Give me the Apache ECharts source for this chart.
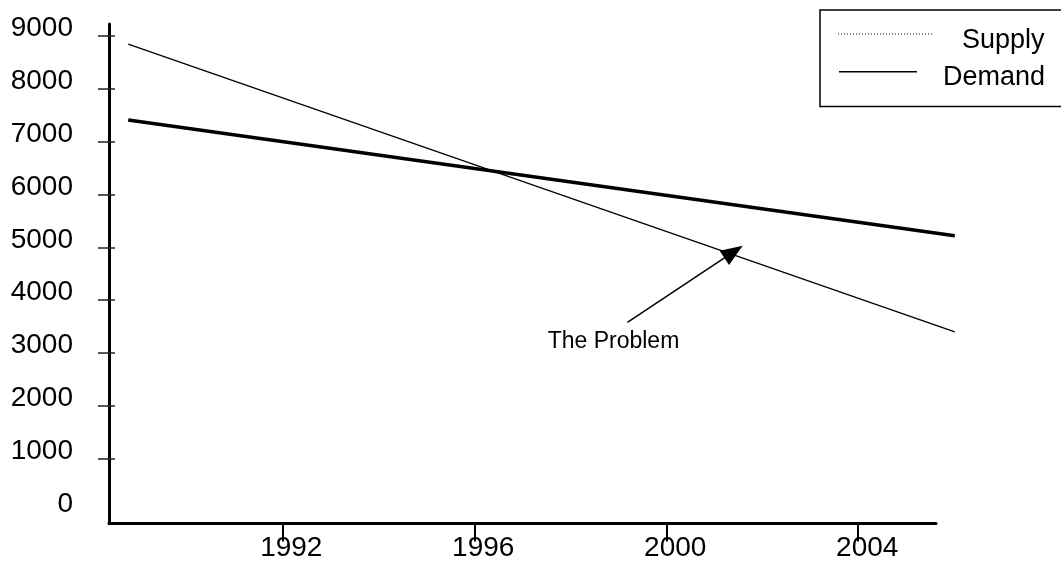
<!DOCTYPE html>
<html>
<head>
<meta charset="utf-8">
<script src="https://cdn.jsdelivr.net/npm/echarts@6/dist/echarts.min.js"></script>
<style>
  html, body { margin: 0; padding: 0; background: #fff; }
  #chart { width: 1061px; height: 564px; }
</style>
</head>
<body>
<div id="chart"></div>
<script>
// Series and tick data
const seriesNames = ['Supply', 'Demand'];
const supplyPoints = [[1988.79, 8848], [2006.01, 3398]];
const demandPoints = [[1988.79, 7410], [2006.01, 5220]];
const yearTicks = [1992, 1996, 2000, 2004];
const valueTicks = [1000, 2000, 3000, 4000, 5000, 6000, 7000, 8000, 9000];
const valueLabels = [0, 1000, 2000, 3000, 4000, 5000, 6000, 7000, 8000, 9000];
const xRange = [1988.39, 2005.62];      // span of the drawn x axis line
const xPlotMax = 2006.025;              // the trend lines run a little past the axis
const yRange = [-227, 9227];

// Annotation: arrow pointing at the widening gap, with its caption
const annotationText = 'The Problem';
const arrowFrom = [1999.19, 3581];
const arrowTo = [2001.40, 4916];
const annotationAt = [1998.90, 3209];

const FONT = "'Liberation Sans', Arial, Helvetica, sans-serif";

const chart = echarts.init(document.getElementById('chart'), null, { renderer: 'canvas' });

const hiddenAxis = {
  show: true,
  splitLine: { show: false },
  axisLine: { show: false },
  axisTick: { show: false },
  axisLabel: { show: false }
};

chart.setOption({
  animation: false,
  backgroundColor: '#ffffff',
  textStyle: { fontFamily: FONT, color: '#000' },
  grid: [
    // frame carrying the visible axes
    { left: 109, right: 125, top: 24, bottom: 40.5, containLabel: false },
    // plotting area for the lines, reaching slightly further right
    { left: 109, right: 105.5, top: 24, bottom: 40.5, containLabel: false }
  ],
  xAxis: [
    {
      gridIndex: 0,
      type: 'value',
      min: xRange[0],
      max: xRange[1],
      splitLine: { show: false },
      axisLine: { show: true, onZero: false, lineStyle: { color: '#000', width: 3 } },
      axisTick: { show: true, customValues: yearTicks, length: 18, lineStyle: { color: '#000', width: 2 } },
      axisLabel: {
        show: true, customValues: yearTicks, fontSize: 28, fontFamily: FONT, color: '#000',
        margin: 11, padding: [0, 0, 0, 18],
        formatter: v => String(Math.round(v))
      }
    },
    Object.assign({ gridIndex: 1, type: 'value', min: xRange[0], max: xPlotMax }, hiddenAxis)
  ],
  yAxis: [
    {
      gridIndex: 0,
      type: 'value',
      min: yRange[0],
      max: yRange[1],
      splitLine: { show: false },
      axisLine: { show: true, lineStyle: { color: '#000', width: 3 } },
      axisTick: { show: true, customValues: valueTicks, length: 11, lineStyle: { color: '#222', width: 1.5 } },
      axisLabel: {
        show: true, customValues: valueLabels, fontSize: 28, fontFamily: FONT, color: '#000',
        margin: 36, verticalAlign: 'bottom', lineHeight: 15,
        formatter: v => String(Math.round(v))
      }
    },
    {
      // inner half of the crossing tick marks
      gridIndex: 0,
      type: 'value',
      position: 'left',
      min: yRange[0],
      max: yRange[1],
      splitLine: { show: false },
      axisLine: { show: false },
      axisTick: { show: true, inside: true, customValues: valueTicks, length: 6, lineStyle: { color: '#222', width: 1.5 } },
      axisLabel: { show: false }
    },
    Object.assign({ gridIndex: 1, type: 'value', min: yRange[0], max: yRange[1] }, hiddenAxis)
  ],
  graphic: [
    // legend box
    {
      type: 'rect',
      shape: { x: 820, y: 10, width: 260, height: 96.5 },
      style: { fill: 'none', stroke: '#000', lineWidth: 1.5 },
      silent: true, z: 100
    },
    {
      type: 'line',
      shape: { x1: 838, y1: 34, x2: 933, y2: 34 },
      style: { stroke: '#000', lineWidth: 1, lineDash: [1, 2] },
      silent: true, z: 100
    },
    {
      type: 'text', x: 962, y: 41,
      style: { text: seriesNames[0], font: "27px " + FONT, fill: '#000', verticalAlign: 'middle', align: 'left' },
      silent: true, z: 100
    },
    {
      type: 'line',
      shape: { x1: 839, y1: 71.7, x2: 917, y2: 71.7 },
      style: { stroke: '#000', lineWidth: 1.5 },
      silent: true, z: 100
    },
    {
      type: 'text', x: 943, y: 77.5,
      style: { text: seriesNames[1], font: "27px " + FONT, fill: '#000', verticalAlign: 'middle', align: 'left' },
      silent: true, z: 100
    }
  ],
  series: [
    {
      name: seriesNames[0],
      type: 'line',
      xAxisIndex: 1,
      yAxisIndex: 2,
      data: supplyPoints,
      symbol: 'none',
      lineStyle: { color: '#000', width: 1.3 },
      itemStyle: { color: '#000' }
    },
    {
      name: seriesNames[1],
      type: 'line',
      xAxisIndex: 1,
      yAxisIndex: 2,
      data: demandPoints,
      symbol: 'none',
      lineStyle: { color: '#000', width: 3.5 },
      itemStyle: { color: '#000' },
      markLine: {
        silent: true,
        animation: false,
        symbol: ['none', 'triangle'],
        symbolSize: [17, 22],
        lineStyle: { color: '#000', width: 1.5, type: 'solid' },
        itemStyle: { color: '#000' },
        label: { show: false },
        emphasis: { disabled: true },
        data: [[{ coord: arrowFrom }, { coord: arrowTo }]]
      },
      markPoint: {
        silent: true,
        animation: false,
        symbol: 'rect',
        symbolSize: 1,
        itemStyle: { color: 'rgba(0,0,0,0)' },
        label: {
          show: true, position: 'inside', formatter: annotationText,
          fontSize: 23, fontFamily: FONT, color: '#000'
        },
        data: [{ coord: annotationAt }]
      }
    }
  ]
});
</script>
</body>
</html>
